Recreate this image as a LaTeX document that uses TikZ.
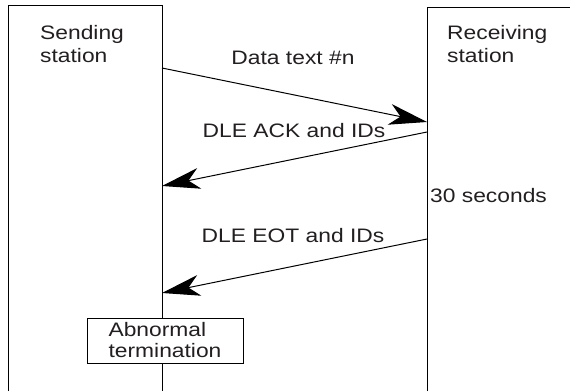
\documentclass[tikz,border=0pt]{standalone}
\usepackage{fontspec}
\setmainfont{Liberation Sans}[FakeStretch=1.17]
\usetikzlibrary{arrows.meta}
\definecolor{txt}{HTML}{231F20}
\begin{document}
\begin{tikzpicture}[x=1pt,y=-1pt,
  line/.style={line width=1pt,black},
  msg/.style={line, -{Stealth[length=38pt,width=21pt,inset=11pt]}},
  lbl/.style={inner sep=0pt,text=txt,font=\fontsize{19.5}{23}\selectfont},
  termbox/.style={draw,line width=1pt,fill=white,minimum width=156pt,minimum height=45pt,inner sep=0pt,align=left,text=txt,font=\fontsize{19.5}{21}\selectfont}]
\useasboundingbox (0,0) rectangle (570,391);
% station boxes
\draw[line] (8,391) -- (8,5) -- (162,5) -- (162,391);
\draw[line] (427,391) -- (427,7) -- (570,7);
\node[lbl,anchor=base west,align=left] (send) at (40,62) {Sending\\station};
\node[lbl,anchor=base west,align=left] (recv) at (447,62) {Receiving\\station};
% endpoints on lifelines
\coordinate (s1) at (162,68);
\coordinate (r1) at (427,122);
\coordinate (r2) at (427,132);
\coordinate (s2) at (162,186);
\coordinate (r3) at (427,239);
\coordinate (s3) at (162,293);
\draw[msg] (s1) -- (r1);
\draw[msg] (r2) -- (s2);
\draw[msg] (r3) -- (s3);
\node[lbl,anchor=base] (m1) at (293,64) {Data text \#n};
\node[lbl,anchor=base] (m2) at (294,137) {DLE ACK and IDs};
\node[lbl,anchor=base] (m3) at (293,242) {DLE EOT and IDs};
\node[lbl,anchor=base west] (t30) at (430,202) {30 seconds};
\node[termbox] (abn) at (165,340.5) {Abnormal\\termination};
\end{tikzpicture}
\end{document}
